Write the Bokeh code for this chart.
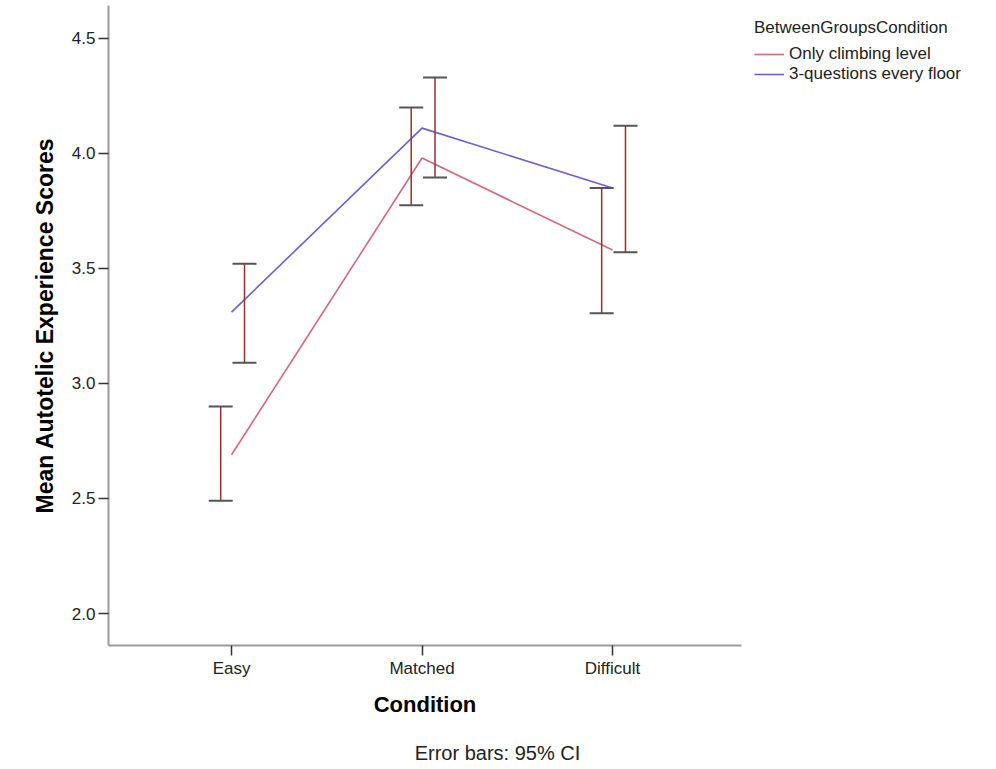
from bokeh.plotting import figure
from bokeh.layouts import row, column
from bokeh.models import (ColumnDataSource, Range1d, FixedTicker, Legend, LegendItem,
                          Label, NumeralTickFormatter)
from bokeh.embed import file_html
from bokeh.resources import INLINE

# Conditions on the x axis
conditions = ["Easy", "Matched", "Difficult"]

# Group labels
groups = ["Only climbing level", "3-questions every floor"]

# Mean autotelic experience scores per group
means_only = [2.69, 3.98, 3.58]
means_quest = [3.31, 4.11, 3.85]

# 95% confidence intervals
ci_low_only = [2.49, 3.775, 3.305]
ci_high_only = [2.90, 4.20, 3.85]
ci_low_quest = [3.09, 3.895, 3.57]
ci_high_quest = [3.52, 4.33, 4.12]

y_ticks = [2.0, 2.5, 3.0, 3.5, 4.0, 4.5]

FONT = "Liberation Sans"
COL_ONLY = "#d4687c"
COL_QUEST = "#6c5fd8"
STEM = "#9a2f32"
CAP = "#555555"

x_pos = list(range(len(conditions)))
dodge_only = -0.057
dodge_quest = 0.068
cap_half = 0.063


def bare(fig):
    fig.outline_line_color = None
    fig.background_fill_color = "white"
    fig.border_fill_color = "white"
    fig.xgrid.visible = False
    fig.ygrid.visible = False
    fig.sizing_mode = "fixed"
    fig.frame_align = False


# main chart
p = figure(width=745, height=725, output_backend="svg", toolbar_location=None,
           x_range=Range1d(-0.646, 2.677), y_range=Range1d(1.861, 4.643),
           min_border_left=108, min_border_right=4, min_border_top=5,
           min_border_bottom=80)
bare(p)

# mean lines, joined at the category centres
p.line(x_pos, means_only, line_color=COL_ONLY, line_width=1.6)
p.line(x_pos, means_quest, line_color=COL_QUEST, line_width=1.6)

# error bars, dodged either side of each category
for off, lo, hi in [(dodge_only, ci_low_only, ci_high_only),
                    (dodge_quest, ci_low_quest, ci_high_quest)]:
    xs = [x + off for x in x_pos]
    src = ColumnDataSource(dict(x=xs, lo=lo, hi=hi,
                                x0=[x - cap_half for x in xs],
                                x1=[x + cap_half for x in xs]))
    p.segment(x0="x", y0="lo", x1="x", y1="hi", source=src,
              line_color=STEM, line_width=1.5)
    p.segment(x0="x0", y0="lo", x1="x1", y1="lo", source=src,
              line_color=CAP, line_width=2)
    p.segment(x0="x0", y0="hi", x1="x1", y1="hi", source=src,
              line_color=CAP, line_width=2)

# axes
for ax in (p.xaxis[0], p.yaxis[0]):
    ax.axis_line_color = "#9a9a9a"
    ax.axis_line_width = 2
    ax.major_tick_line_color = "#333333"
    ax.major_tick_line_width = 1.5
    ax.major_tick_out = 10
    ax.major_tick_in = 0
    ax.minor_tick_line_color = None
    ax.major_label_text_font = FONT
    ax.major_label_text_font_size = "17px"
    ax.major_label_text_color = "#222222"
    ax.axis_label_text_font = FONT
    ax.axis_label_text_font_style = "bold"
    ax.axis_label_text_color = "#000000"

p.xaxis.ticker = FixedTicker(ticks=x_pos)
p.xaxis.major_label_overrides = {i: c for i, c in enumerate(conditions)}
p.xaxis.major_label_standoff = 3
p.xaxis.axis_label = "Condition"
p.xaxis.axis_label_text_font_size = "22px"
p.xaxis.axis_label_standoff = 11

p.yaxis.ticker = FixedTicker(ticks=y_ticks)
p.yaxis.formatter = NumeralTickFormatter(format="0.0")
p.yaxis.major_label_standoff = 3
p.yaxis.axis_label = "Mean Autotelic Experience Scores"
p.yaxis.axis_label_text_font_size = "23px"
p.yaxis.axis_label_standoff = 11

# legend panel to the right of the chart; its own ranges keep the
# series lines out of view so only the legend keys show
side = figure(width=251, height=725, output_backend="svg", toolbar_location=None,
              x_axis_location=None, y_axis_location=None,
              x_range=Range1d(10, 11), y_range=Range1d(10, 11),
              min_border_left=9, min_border_right=0, min_border_top=18,
              min_border_bottom=0)
bare(side)
leg_only = side.line(x_pos, means_only, line_color=COL_ONLY, line_width=1.6)
leg_quest = side.line(x_pos, means_quest, line_color=COL_QUEST, line_width=1.6)
legend = Legend(items=[LegendItem(label=groups[0], renderers=[leg_only]),
                       LegendItem(label=groups[1], renderers=[leg_quest])],
                title="BetweenGroupsCondition", location="top_left",
                border_line_color=None, background_fill_alpha=0,
                label_text_font=FONT, label_text_font_size="17px",
                label_text_color="#222222",
                title_text_font=FONT, title_text_font_size="17px",
                title_text_font_style="normal", title_text_color="#222222",
                title_standoff=6, glyph_width=30, glyph_height=20,
                label_height=20, label_standoff=5, spacing=0, padding=10,
                margin=0)
side.add_layout(legend)

# footer strip with the error bar note
foot = figure(width=996, height=44, output_backend="svg", toolbar_location=None,
              x_axis_location=None, y_axis_location=None,
              x_range=Range1d(0, 996), y_range=Range1d(0, 44), min_border=0)
bare(foot)
foot.add_layout(Label(x=497, y=17, text="Error bars: 95% CI", text_font=FONT,
                      text_font_size="20px", text_color="#222222",
                      text_align="center", text_baseline="middle"))

layout = column(row(p, side, spacing=0), foot, spacing=0)

open("out.html", "w").write(file_html(layout, INLINE))
